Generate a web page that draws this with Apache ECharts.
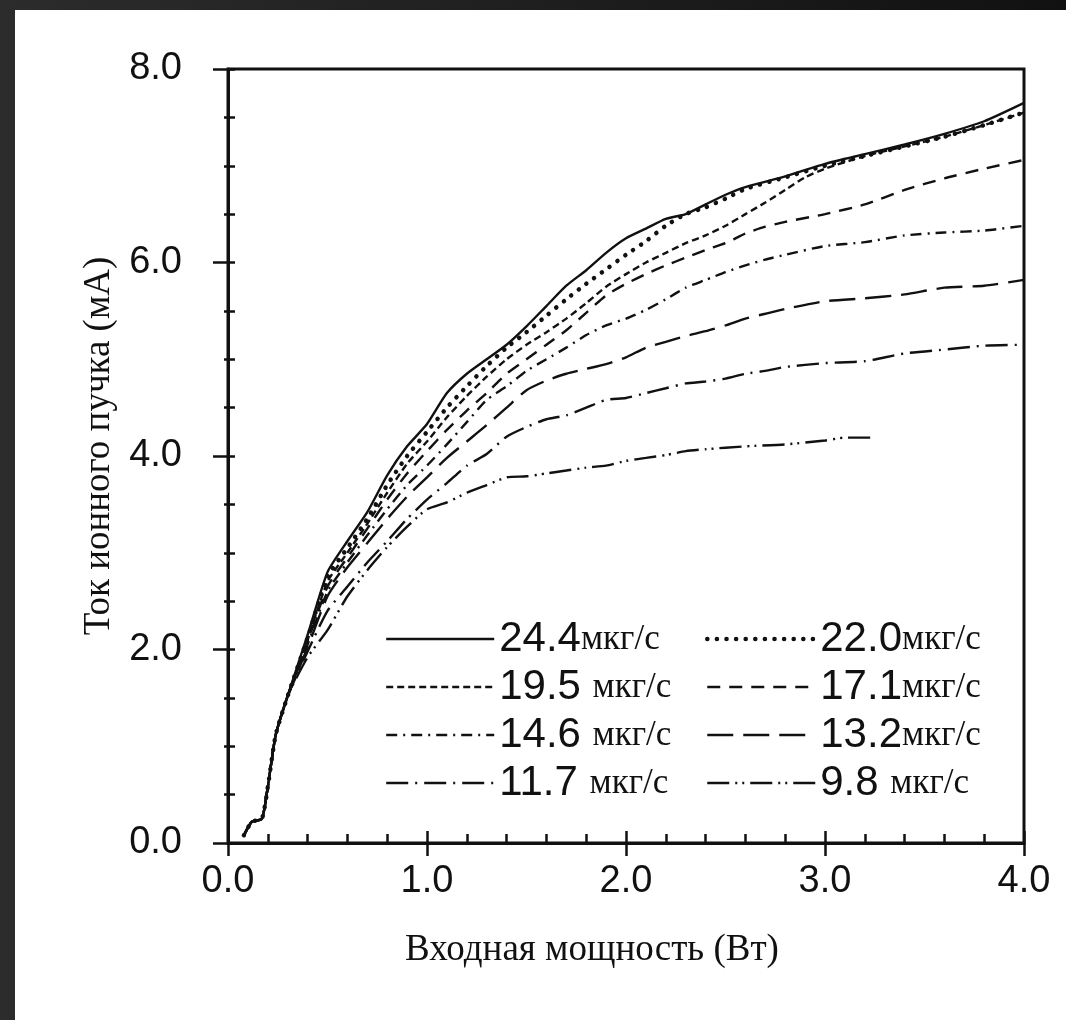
<!DOCTYPE html>
<html>
<head>
<meta charset="utf-8">
<script src="https://cdn.jsdelivr.net/npm/echarts@6/dist/echarts.min.js"></script>
<style>
  html, body { margin: 0; padding: 0; }
  body {
    width: 1066px; height: 1020px; overflow: hidden;
    background: linear-gradient(90deg, #2c2c2c 0%, #1c1c1c 60%, #111 100%);
    position: relative;
  }
  #chart {
    position: absolute; left: 15px; top: 10px;
    width: 1051px; height: 1010px;
    background: #ffffff;
  }
</style>
</head>
<body>
<div id="chart"></div>
<script>
// Входная мощность (Вт) -> Ток ионного пучка (мА)
const rise = [[0.08, 0.08], [0.12, 0.22], [0.17, 0.25], [0.2, 0.58], [0.24, 1.12], [0.3, 1.52]];

const flow244 = [[0.4, 2.15], [0.5, 2.8], [0.6, 3.12], [0.7, 3.42], [0.8, 3.8], [0.9, 4.1], [1.0, 4.33],
  [1.1, 4.65], [1.2, 4.85], [1.3, 5.0], [1.4, 5.15], [1.5, 5.34], [1.6, 5.55], [1.7, 5.76], [1.8, 5.92],
  [1.9, 6.1], [2.0, 6.25], [2.1, 6.35], [2.2, 6.45], [2.3, 6.5], [2.4, 6.6], [2.5, 6.7], [2.6, 6.78],
  [2.8, 6.89], [3.0, 7.02], [3.2, 7.12], [3.4, 7.22], [3.6, 7.33], [3.8, 7.46], [4.0, 7.65]];

const flow220 = [[0.4, 2.12], [0.5, 2.75], [0.6, 3.05], [0.7, 3.35], [0.8, 3.7], [0.9, 4.0], [1.0, 4.25],
  [1.1, 4.5], [1.2, 4.72], [1.3, 4.93], [1.4, 5.12], [1.5, 5.28], [1.6, 5.45], [1.7, 5.62], [1.8, 5.78],
  [1.9, 5.93], [2.0, 6.08], [2.1, 6.22], [2.2, 6.38], [2.3, 6.5], [2.4, 6.57], [2.5, 6.66], [2.6, 6.76],
  [2.8, 6.88], [3.0, 7.0], [3.2, 7.1], [3.4, 7.2], [3.6, 7.3], [3.8, 7.42], [4.0, 7.55]];

const flow195 = [[0.4, 2.1], [0.5, 2.7], [0.6, 3.0], [0.7, 3.3], [0.8, 3.62], [0.9, 3.92], [1.0, 4.15],
  [1.1, 4.4], [1.2, 4.62], [1.3, 4.82], [1.4, 5.0], [1.5, 5.15], [1.6, 5.28], [1.7, 5.42], [1.8, 5.58],
  [1.9, 5.75], [2.0, 5.88], [2.1, 6.0], [2.2, 6.1], [2.3, 6.2], [2.4, 6.28], [2.5, 6.38], [2.6, 6.5],
  [2.7, 6.62], [2.8, 6.75], [2.9, 6.88], [3.0, 6.97], [3.2, 7.1], [3.4, 7.2], [3.6, 7.3], [3.8, 7.42], [4.0, 7.55]];

const flow171 = [[0.4, 2.08], [0.5, 2.65], [0.6, 2.95], [0.7, 3.25], [0.8, 3.55], [0.9, 3.82], [1.0, 4.05],
  [1.1, 4.27], [1.2, 4.47], [1.3, 4.65], [1.4, 4.85], [1.5, 5.0], [1.6, 5.15], [1.7, 5.3], [1.8, 5.48],
  [1.9, 5.66], [2.0, 5.78], [2.1, 5.88], [2.2, 5.97], [2.3, 6.05], [2.4, 6.13], [2.5, 6.2], [2.6, 6.3],
  [2.7, 6.37], [2.8, 6.42], [3.0, 6.5], [3.2, 6.6], [3.4, 6.75], [3.6, 6.87], [3.8, 6.97], [4.0, 7.06]];

const flow146 = [[0.4, 2.05], [0.5, 2.6], [0.6, 2.9], [0.7, 3.18], [0.8, 3.45], [0.9, 3.7], [1.0, 3.9],
  [1.1, 4.12], [1.2, 4.35], [1.3, 4.58], [1.4, 4.72], [1.5, 4.88], [1.6, 5.0], [1.7, 5.12], [1.8, 5.25],
  [1.9, 5.35], [2.0, 5.42], [2.1, 5.51], [2.2, 5.62], [2.3, 5.74], [2.4, 5.82], [2.5, 5.9], [2.6, 5.97],
  [2.7, 6.03], [2.8, 6.08], [3.0, 6.17], [3.2, 6.21], [3.4, 6.28], [3.6, 6.31], [3.8, 6.33], [4.0, 6.38]];

const flow132 = [[0.4, 2.02], [0.5, 2.55], [0.6, 2.85], [0.7, 3.1], [0.8, 3.35], [0.9, 3.58], [1.0, 3.78],
  [1.1, 3.98], [1.2, 4.15], [1.3, 4.32], [1.4, 4.5], [1.5, 4.68], [1.6, 4.78], [1.7, 4.85], [1.8, 4.9],
  [1.9, 4.95], [2.0, 5.02], [2.1, 5.12], [2.2, 5.18], [2.3, 5.24], [2.4, 5.29], [2.5, 5.35], [2.6, 5.42],
  [2.7, 5.47], [2.8, 5.52], [3.0, 5.6], [3.2, 5.63], [3.4, 5.67], [3.6, 5.74], [3.8, 5.76], [4.0, 5.82]];

const flow117 = [[0.4, 1.98], [0.5, 2.4], [0.6, 2.65], [0.7, 2.9], [0.8, 3.12], [0.9, 3.35], [1.0, 3.55],
  [1.1, 3.72], [1.2, 3.9], [1.3, 4.02], [1.4, 4.2], [1.5, 4.3], [1.6, 4.38], [1.7, 4.42], [1.8, 4.5],
  [1.9, 4.58], [2.0, 4.6], [2.1, 4.65], [2.2, 4.7], [2.3, 4.75], [2.4, 4.77], [2.5, 4.8], [2.6, 4.85],
  [2.7, 4.88], [2.8, 4.92], [3.0, 4.96], [3.2, 4.98], [3.4, 5.06], [3.6, 5.1], [3.8, 5.14], [4.0, 5.15]];

const flow98 = [[0.4, 1.92], [0.5, 2.2], [0.6, 2.55], [0.7, 2.82], [0.8, 3.06], [0.9, 3.27], [1.0, 3.45],
  [1.1, 3.52], [1.2, 3.62], [1.3, 3.7], [1.4, 3.78], [1.5, 3.79], [1.6, 3.82], [1.7, 3.85], [1.8, 3.88],
  [1.9, 3.9], [2.0, 3.95], [2.1, 3.98], [2.2, 4.01], [2.3, 4.05], [2.4, 4.07], [2.6, 4.1], [2.8, 4.12],
  [3.0, 4.16], [3.1, 4.19], [3.24, 4.19]];

const names = ['24.4мкг/с', '22.0мкг/с', '19.5 мкг/с', '17.1мкг/с', '14.6 мкг/с', '13.2мкг/с', '11.7 мкг/с', '9.8 мкг/с'];
const curves = [flow244, flow220, flow195, flow171, flow146, flow132, flow117, flow98];
const dashes = ['solid', [0.1, 9.5], [7, 4], [13, 9], [11, 6, 2, 6], [26, 10], [22, 7, 2, 7], [22, 6, 2, 5, 2, 6]];

const xTicks = ['0.0', '1.0', '2.0', '3.0', '4.0'];
const yTicks = ['0.0', '2.0', '4.0', '6.0', '8.0'];

const chart = echarts.init(document.getElementById('chart'));

const black = '#111';
const sansFont = '"Liberation Sans", Arial, sans-serif';
const serifFont = '"Liberation Serif", "Times New Roman", serif';

const series = curves.map((pts, i) => ({
  name: names[i],
  type: 'line',
  data: rise.concat(pts),
  showSymbol: false,
  symbol: 'none',
  smooth: 0.2,
  xAxisIndex: 0,
  yAxisIndex: 0,
  lineStyle: {
    color: black,
    width: i === 1 ? 4.5 : 2.4,
    type: dashes[i],
    cap: i === 1 ? 'round' : 'butt'
  },
  itemStyle: { color: black }
}));

const legendText = name => {
  const m = name.match(/^([\d.]+)(\s?)(.*)$/);
  return `{n|${m[1]}${m[2]}}{u|${m[3]}}`;
};

// two columns, each its own vertical legend
const legendBase = {
  orient: 'vertical',
  itemWidth: 108,
  itemHeight: 14,
  itemGap: 6,
  padding: 0,
  selectedMode: false,
  formatter: legendText,
  itemStyle: { opacity: 0 },
  lineStyle: { width: 'inherit', cap: 'inherit' },
  textStyle: {
    color: black,
    lineHeight: 36,
    rich: {
      n: { fontFamily: sansFont, fontSize: 42, color: black, lineHeight: 36 },
      u: { fontFamily: serifFont, fontSize: 35, color: black, lineHeight: 36, verticalAlign: 'bottom' }
    }
  }
};

const hideAll = { axisLine: { show: false }, axisLabel: { show: false }, splitLine: { show: false } };

chart.setOption({
  animation: false,
  backgroundColor: '#ffffff',
  grid: {
    left: 213, right: 42, top: 59, bottom: 177,
    show: true, borderColor: black, borderWidth: 3, backgroundColor: 'transparent'
  },
  legend: [
    { ...legendBase, left: 370, top: 608, data: [names[0], names[2], names[4], names[6]] },
    { ...legendBase, left: 690, top: 608, data: [names[1], names[3], names[5], names[7]] }
  ],
  xAxis: [
    {
      type: 'value', min: 0, max: 4, interval: 1, position: 'bottom',
      name: 'Входная мощность (Вт)', nameLocation: 'middle', nameGap: 89,
      nameTextStyle: { fontFamily: serifFont, fontSize: 37, color: black, padding: [0, 68, 0, 0] },
      axisLine: { show: true, onZero: false, lineStyle: { color: black, width: 3 } },
      axisTick: { show: true, length: 13, lineStyle: { color: black, width: 2.5 } },
      axisLabel: {
        fontFamily: sansFont, fontSize: 38, color: black, margin: 20,
        formatter: v => xTicks[Math.round(v)]
      },
      splitLine: { show: false }
    },
    {
      type: 'value', min: 0, max: 4, interval: 1, position: 'bottom',
      ...hideAll,
      axisTick: { show: true, inside: true, length: 12, lineStyle: { color: black, width: 2.5 } },
      minorTick: { show: true, splitNumber: 5, length: 9, lineStyle: { color: black, width: 2.5 } }
    }
  ],
  yAxis: [
    {
      type: 'value', min: 0, max: 8, interval: 2, position: 'left',
      name: 'Ток ионного пучка (мА)', nameLocation: 'middle', nameGap: 110,
      nameTextStyle: { fontFamily: serifFont, fontSize: 37, color: black, padding: [0, 0, 0, 20] },
      axisLine: { show: true, onZero: false, lineStyle: { color: black, width: 3 } },
      axisTick: { show: true, length: 15, lineStyle: { color: black, width: 2.5 } },
      axisLabel: {
        fontFamily: sansFont, fontSize: 38, color: black, margin: 46,
        formatter: v => yTicks[Math.round(v / 2)]
      },
      splitLine: { show: false }
    },
    {
      type: 'value', min: 0, max: 8, interval: 2, position: 'left',
      ...hideAll,
      axisTick: { show: true, inside: true, length: 7, lineStyle: { color: black, width: 2.5 } },
      minorTick: { show: true, splitNumber: 4, length: 7, lineStyle: { color: black, width: 2.5 } }
    },
    {
      type: 'value', min: 0, max: 8, interval: 2, position: 'left',
      ...hideAll,
      axisTick: { show: false },
      minorTick: { show: true, splitNumber: 4, length: 4, lineStyle: { color: black, width: 2.5 } }
    }
  ],
  series: series
});
</script>
</body>
</html>
